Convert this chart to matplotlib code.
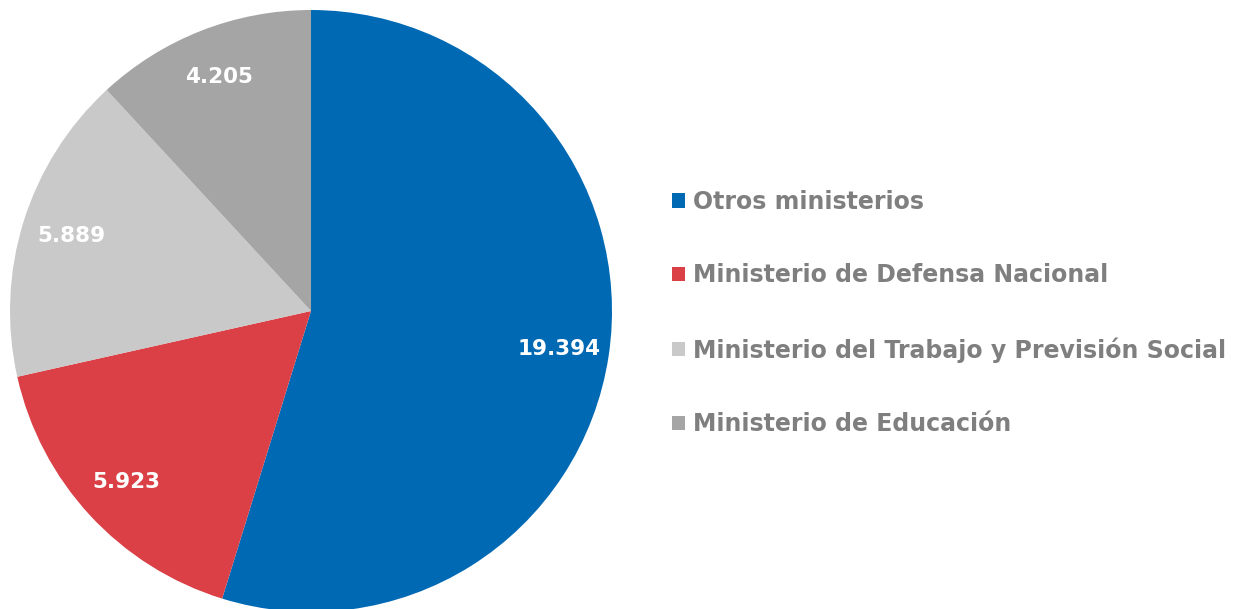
import matplotlib
matplotlib.use("Agg")
import matplotlib.pyplot as plt
from matplotlib.patches import Patch

categories = ["Otros ministerios", "Ministerio de Defensa Nacional",
              "Ministerio del Trabajo y Previsión Social", "Ministerio de Educación"]
values = [19394, 5923, 5889, 4205]
colors = ["#0069B4", "#DA4046", "#C9C9C9", "#A5A5A5"]

W, H = 1236, 609
fig = plt.figure(figsize=(W / 100, H / 100), dpi=100)
cx, cy, r = 311, 311, 301
ax = fig.add_axes([(cx - r) / W, (H - cy - r) / H, 2 * r / W, 2 * r / H])

total = sum(values)

def fmt(pct):
    v = int(round(pct * total / 100.0))
    return f"{v:,}".replace(",", ".")

wedges, texts, autotexts = ax.pie(values, colors=colors, startangle=90, counterclock=False,
                                  radius=1, autopct=fmt, pctdistance=0.835,
                                  wedgeprops=dict(linewidth=0))
ax.set_xlim(-1, 1)
ax.set_ylim(-1, 1)
ax.set_aspect("equal")
ax.axis("off")
for t in autotexts:
    t.set_color("white")
    t.set_fontsize(15.5)
    t.set_fontweight("bold")
    t.set_family("DejaVu Sans")

handles = [Patch(facecolor=c, edgecolor="none") for c in colors]
leg = fig.legend(handles, categories, loc="center left",
                 bbox_to_anchor=(663 / W, 1 - 313 / H), frameon=False,
                 prop=dict(family="DejaVu Sans", weight="bold", size=17),
                 labelcolor="#7F7F7F", handlelength=0.55, handleheight=0.55,
                 handletextpad=0.3, labelspacing=2.1, borderaxespad=0)

fig.savefig("out.png", dpi=100)
